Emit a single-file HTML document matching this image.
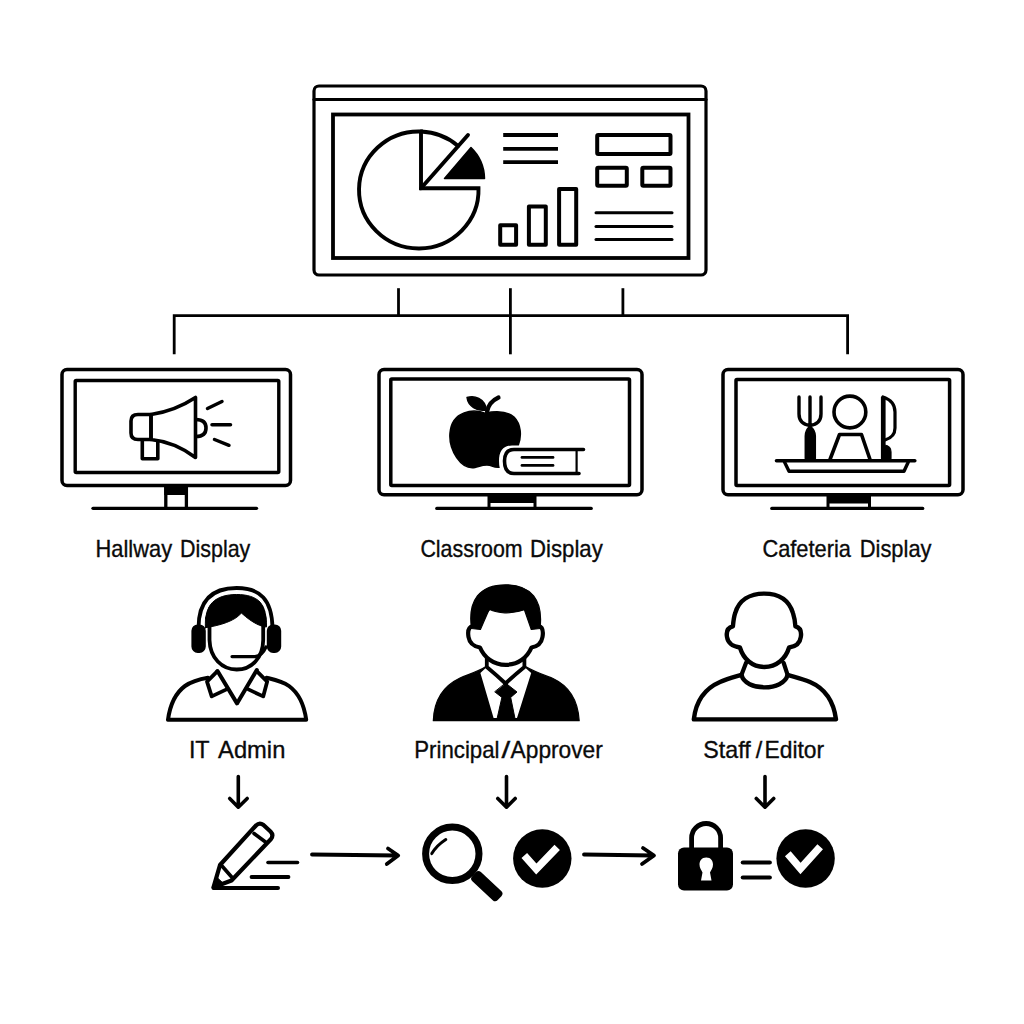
<!DOCTYPE html>
<html lang="en">
<head>
<meta charset="utf-8">
<title>Digital Signage Workflow</title>
<style>
html,body{margin:0;padding:0;background:#fff;}
body{width:1024px;height:1024px;overflow:hidden;}
svg{display:block;}
text{font-family:"Liberation Sans","DejaVu Sans",sans-serif;fill:#0a0a0a;stroke:#0a0a0a;stroke-width:0.35px;}
</style>
</head>
<body>
<svg width="1024" height="1024" viewBox="0 0 1024 1024">
<rect width="1024" height="1024" fill="#ffffff"/>
<g fill="none" stroke="#000" stroke-width="3.2" stroke-linecap="round" stroke-linejoin="round">

<!-- ===== top dashboard monitor ===== -->
<g id="dashboard">
<rect x="314" y="86" width="392" height="189" rx="5"/>
<line x1="314" y1="99.500" x2="706" y2="99.500"/>
<rect x="333" y="114.500" width="355.500" height="143.500" stroke-width="3.800" stroke-linejoin="miter"/>
<!-- pie -->
<path d="M421 131.500 A59.750 58.500 0 1 0 478.500 188.300 L421 188.300 Z" stroke-width="3.900" stroke-linejoin="miter"/>
<path d="M421 131.500 A59.750 58.500 0 0 1 458.100 146" stroke-width="3.900"/>
<line x1="421" y1="188.300" x2="468" y2="135" stroke-width="3.900"/>
<path d="M444.500 178.500 L471 147.500 A44 44 0 0 1 484.500 178.500 Z" fill="#000" stroke-width="1.500"/>
<!-- text lines -->
<line x1="503.200" y1="135" x2="558" y2="135" stroke-width="3.800" stroke-linecap="butt"/>
<line x1="503.200" y1="148.900" x2="558" y2="148.900" stroke-width="3.800" stroke-linecap="butt"/>
<line x1="503.200" y1="162.200" x2="558" y2="162.200" stroke-width="3.800" stroke-linecap="butt"/>
<!-- bars -->
<rect x="500.200" y="225.200" width="15.900" height="19.500" stroke-width="4"/>
<rect x="528.900" y="206.500" width="16.900" height="38.200" stroke-width="4"/>
<rect x="559.100" y="189.100" width="17.100" height="55.600" stroke-width="4"/>
<!-- right boxes -->
<rect x="597.200" y="134.900" width="73.300" height="19" rx="1" stroke-width="4"/>
<rect x="597.200" y="167.700" width="29.600" height="18" rx="1" stroke-width="4"/>
<rect x="642.300" y="167.700" width="28.200" height="18" rx="1" stroke-width="4"/>
<line x1="596" y1="212.700" x2="672" y2="212.700" stroke-width="3"/>
<line x1="596" y1="226.600" x2="672" y2="226.600" stroke-width="3"/>
<line x1="596" y1="239.400" x2="672" y2="239.400" stroke-width="3"/>
</g>

<!-- ===== connectors ===== -->
<g id="connectors" stroke-width="2.800" stroke-linecap="butt" stroke-linejoin="miter">
<path d="M174.200 354.300 V315.700 H847.600 V354.300"/>
<line x1="398.500" y1="288.200" x2="398.500" y2="315.700"/>
<line x1="510.400" y1="288.200" x2="510.400" y2="354.300"/>
<line x1="622.900" y1="288.200" x2="622.900" y2="315.700"/>
</g>

<!-- ===== hallway monitor ===== -->
<g id="hallway">
<rect x="62" y="369.500" width="228.500" height="116" rx="5" stroke-width="3.500"/>
<rect x="75.200" y="380.500" width="203.600" height="92" stroke-width="3.400" rx="1"/>
<rect x="164.200" y="486" width="23.800" height="9" fill="#000" stroke="none"/>
<path d="M165.800 486 V507 M186.400 486 V507" stroke-width="3.300" stroke-linecap="butt"/>
<line x1="93" y1="508.300" x2="256.500" y2="508.300" stroke-width="3.300"/>
<!-- megaphone -->
<path d="M151 414.500 Q175 411 195.500 397.500 V457.500 Q175 442 151 439.500 Z" stroke-width="3.600"/>
<path d="M151 414.500 H138 Q131 414.500 131 421 V433 Q131 439.500 138 439.500 H151 Z" stroke-width="3.600"/>
<path d="M142.300 440 V458.800 H157.800 V441" stroke-width="3.600"/>
<path d="M196 419.500 Q206 419.500 206 428 Q206 436.500 196 436.500" stroke-width="3.600"/>
<line x1="207.500" y1="408.500" x2="222" y2="401.500" stroke-width="3.500"/>
<line x1="212" y1="424.700" x2="230.500" y2="424.700" stroke-width="3.500"/>
<line x1="214.500" y1="439.500" x2="229" y2="445.300" stroke-width="3.500"/>
</g>

<!-- ===== classroom monitor ===== -->
<g id="classroom">
<rect x="379" y="369.500" width="263" height="125.300" rx="5" stroke-width="3.500"/>
<rect x="390.800" y="379" width="238.700" height="106.400" stroke-width="3.500" rx="1"/>
<rect x="488" y="495.500" width="48" height="7.500" fill="#000" stroke="none"/>
<path d="M489 496 V507.500 M535 496 V507.500" stroke-width="3"/>
<line x1="436.800" y1="508.400" x2="591.200" y2="508.400" stroke-width="3.300"/>
<!-- apple -->
<path d="M485 413.200 C474 409 452 410 450 433 C448.500 450 461 470 475 467.500 C481 466 486 463.500 492 466 C498 468.500 505 467 508 463 L508 452 L518 446 C522 436 521 424 514 417 C506 410.500 494 411.200 485 413.200 Z" fill="#000" stroke-width="1.500"/>
<path d="M467 397.500 C474 395 485 398 486.500 410 C477 412 468 406 467 397.500 Z" fill="#000" stroke-width="1.400"/>
<path d="M487 412 C488 405 493 400 498.500 397.500" stroke-width="4.200"/>
<!-- book -->
<path d="M583.500 449.500 H512 Q503 449.500 503 461 Q503 473.500 512 473.500 H579" stroke="#fff" stroke-width="8"/>
<path d="M583.500 449.500 H514 Q504.500 449.500 504.500 461 Q504.500 473.500 514 473.500 H579" fill="#fff" stroke-width="3.600"/>
<line x1="576.600" y1="450" x2="576.600" y2="473" stroke-width="2.200"/>
<line x1="522" y1="457.400" x2="553" y2="457.400" stroke-width="2.800"/>
<line x1="522" y1="465.400" x2="553" y2="465.400" stroke-width="2.800"/>
</g>

<!-- ===== cafeteria monitor ===== -->
<g id="cafeteria">
<rect x="723" y="369.500" width="240" height="125.300" rx="5" stroke-width="3.500"/>
<rect x="736" y="379.600" width="213.600" height="105.800" stroke-width="3.500" rx="1"/>
<rect x="827" y="495.500" width="43.500" height="8" fill="#000" stroke="none"/>
<path d="M828 496 V507.500 M869.500 496 V507.500" stroke-width="3"/>
<line x1="771.800" y1="508.400" x2="922.700" y2="508.400" stroke-width="3.300"/>
<!-- fork -->
<path d="M799 397 V414 Q799 424 810 425.500 Q821 424 821 414 V397 M810 397 V426" stroke-width="3.400"/>
<path d="M810 426 Q805.300 430 805.300 436 V458.500 H815.300 V436 Q815.300 430 810 426 Z" fill="#000" stroke-width="1.500"/>
<!-- head -->
<circle cx="849.900" cy="412" r="15.900" stroke-width="3.600"/>
<path d="M829.800 460 L839.500 434.500 H861.500 L870.200 460" stroke-width="3.600"/>
<!-- knife -->
<path d="M883 397 Q895 401 895 412 V428 Q895 437 885 440" stroke-width="3.200"/>
<path d="M881.500 397 H885 V445 Q891 446 891 452 V458.500 H881.500 Z" fill="#000" stroke-width="1.200"/>
<!-- tray -->
<line x1="776.500" y1="460.700" x2="914.800" y2="460.700" stroke-width="3.600"/>
<path d="M784.500 462 L789 471.300 H904 L908.300 462" stroke-width="3.400"/>
</g>
</g>

<!-- labels row 1 -->
<g font-size="24" lengthAdjust="spacingAndGlyphs">
<text y="556.800"><tspan x="95.590" textLength="76.510" lengthAdjust="spacingAndGlyphs">Hallway</tspan> <tspan x="180.010" textLength="70.290" lengthAdjust="spacingAndGlyphs">Display</tspan></text>
<text y="556.800"><tspan x="420.410" textLength="102.280" lengthAdjust="spacingAndGlyphs">Classroom</tspan> <tspan x="530.080" textLength="72.720" lengthAdjust="spacingAndGlyphs">Display</tspan></text>
<text y="556.800"><tspan x="762.390" textLength="88.520" lengthAdjust="spacingAndGlyphs">Cafeteria</tspan> <tspan x="859.790" textLength="71.710" lengthAdjust="spacingAndGlyphs">Display</tspan></text>
</g>

<g fill="none" stroke="#000" stroke-width="4" stroke-linecap="round" stroke-linejoin="round">
<!-- ===== IT admin ===== -->
<g id="itadmin">
<!-- shoulders -->
<path d="M217.500 671 L237 703.400 L256.800 670" stroke-width="4"/>
<path d="M208 677.700 C200 679 192 681 185 686 C175.500 693 170 705 168 719.800 H306.200 C304.200 705 298.500 693 289 686 C282 681 274 679.500 266.500 677.700" stroke-width="4"/>
<!-- collar -->
<path d="M217.200 671.400 L207 681.600 L211.700 696.400 L226.500 689.400" stroke-width="3.800"/>
<path d="M257 671.400 L267.200 681.600 L263.200 696.400 L248.400 689.400" stroke-width="3.800"/>
<!-- face -->
<path d="M209.500 625 V640 C210 658 222 669.500 236.700 669.500 C251.500 669.500 263 658 263.200 640 V625 C262 603 252 597 236.700 597 C221 597 210.500 603 209.500 625 Z" fill="#fff" stroke-width="3.800"/>
<!-- hair -->
<path d="M205.400 627.700 C203.500 604 216 594.500 236.700 594.500 C257.500 594.500 268.500 604 266.400 627 C261 626.500 253 623.500 241.400 613 C235 621 220 625.500 205.400 627.700 Z" fill="#000" stroke-width="1"/>
<!-- headband -->
<path d="M198.500 628 C198.500 600 213 588 236.700 588 C260.500 588 272 600 272.500 628" stroke-width="3.800"/>
<path d="M203.300 627 C203 602.500 215 591.800 236.700 591.800 C258.500 591.800 268.500 602.500 268.300 627" stroke="#fff" stroke-width="2"/>
<!-- ear cups -->
<rect x="192.200" y="625.300" width="12.800" height="26.800" rx="5.500" fill="#000" stroke-width="1.600"/>
<rect x="267.600" y="625.300" width="12.800" height="26.800" rx="5.500" fill="#000" stroke-width="1.600"/>
<!-- mic -->
<path d="M232 656.600 H255 Q262 656 266 647" stroke-width="3.200"/>
</g>

<!-- ===== principal ===== -->
<g id="principal">
<!-- suit -->
<path d="M433.300 720.700 C434 700 443 686 460 678 C468 674.500 477 672 486 666.500 H525.500 C535 672 544 675 553 678.500 C569 686 578 700 579.200 720.700 Z" fill="#000" stroke-width="1.200"/>
<!-- shirt + neck white -->
<path d="M486.800 660 V667 L480.400 673 L493.600 718 H517 L531.200 673 L524.400 667 V660 Z" fill="#fff" stroke="none"/>
<!-- collar V lines -->
<path d="M486.800 658 V667 Q497 675.500 505.500 683.500 Q514 675.500 524.400 667 V658" stroke-width="3.800"/>
<!-- tie -->
<path d="M505.800 683.200 L517 692 L510.700 697.400 L515.100 719 H497 L501.900 697.400 L495 692 Z" fill="#000" stroke-width="1"/>
<!-- face w/ ears -->
<path d="M473 626 C467.500 627 468 634 468.500 637 C469.500 643 474 646.500 480 647.500 C484 657 493 664.800 505.800 664.800 C518.500 664.800 527.500 657 531.500 647.500 C537.500 646.500 541.500 643 542.500 637 C543 634 543.500 627 538.500 626 L531 608 H489 Z" fill="#fff" stroke-width="4.200"/>
<!-- hair -->
<path d="M471.500 628.500 C467.500 600 480 584.800 505.500 584.800 C531 584.800 543.500 600 540 628.500 L531.300 629.500 L524.400 609.700 C517 612.300 511 613 504.800 612.800 C499 612.600 494 611.500 489.200 609.200 L480.400 629.500 Z" fill="#000" stroke-width="1.200"/>
</g>

<!-- ===== staff ===== -->
<g id="staff">
<path d="M693.800 719.400 C696 700 705 688.500 720 682 C728 678.500 735 676.800 741.500 674.800 C745 691.500 784 691.500 787.600 674.800 C794 676.800 802 678.500 810 682 C825 688.500 833.500 700 836 719.400 Z" stroke-width="4.400"/>
<path d="M746 663 L741.500 674.800 M783.700 663 L787.600 674.800" stroke-width="4.200"/>
<path d="M732.900 626.400 C726 628 726.500 634 727 637 C728 643.500 733 646.500 739.900 647.500 C743.500 659 752 667 764.300 667 C776.500 667 785.500 659 789.100 647.500 C796 646.500 800 643.500 800.800 637 C801.300 634 801.500 628 795.400 626.400 C795 621 794.300 617 793 613.100 C789 600 778.500 593.600 764.200 593.600 C750 593.600 739 600 735.200 613.100 C734 616.500 733.500 620 732.900 626.400 Z" fill="#fff" stroke-width="4.400"/>
</g>
</g>

<!-- labels row 2 -->
<g font-size="23.800">
<text y="758.400"><tspan x="188.880" textLength="20.340" lengthAdjust="spacingAndGlyphs">IT</tspan> <tspan x="218.100" textLength="67.230" lengthAdjust="spacingAndGlyphs">Admin</tspan></text>
<text y="758.400"><tspan x="414.270" textLength="85.240" lengthAdjust="spacingAndGlyphs">Principal</tspan><tspan x="501.400" textLength="8.690" lengthAdjust="spacingAndGlyphs">/</tspan><tspan x="510.600" textLength="92.230" lengthAdjust="spacingAndGlyphs">Approver</tspan></text>
<text y="758.400"><tspan x="703.320" textLength="47.400" lengthAdjust="spacingAndGlyphs">Staff</tspan> <tspan x="755.800" textLength="6.520" lengthAdjust="spacingAndGlyphs">/</tspan><tspan x="764.440" textLength="59.690" lengthAdjust="spacingAndGlyphs">Editor</tspan></text>
</g>

<g fill="none" stroke="#000" stroke-width="3.600" stroke-linecap="round" stroke-linejoin="round">
<!-- down arrows -->
<path d="M238.300 776.500 V806.500 M229.700 798.500 L238.300 807.200 L247.200 798.500"/>
<path d="M506.500 776.500 V806.500 M497.800 798.500 L506.500 807.200 L515.200 798.500"/>
<path d="M765 776.500 V806.500 M756.300 798.500 L765 807.200 L773.700 798.500"/>

<!-- pencil -->
<g id="pencil">
<path d="M220 865 L256 825.500 Q259.500 822 263.500 825 L270.500 831.500 Q274 835 271 839 L231.500 880.500 L213.500 887.300 Z" stroke-width="4.200"/>
<line x1="254" y1="833.500" x2="265.500" y2="842" stroke-width="3.600"/>
<line x1="222" y1="866" x2="232.500" y2="878" stroke-width="3.600"/>
<path d="M213.500 887.300 L216.500 877 L224 884 Z" fill="#000" stroke-width="1"/>
<line x1="213.500" y1="888" x2="278" y2="888" stroke-width="4"/>
<line x1="251.500" y1="877" x2="288.500" y2="877" stroke-width="3.800"/>
<line x1="268" y1="862.500" x2="297.500" y2="862.500" stroke-width="3.600"/>
</g>

<!-- arrows -->
<path d="M312 854.500 L397 855.500 M388 848.500 L398.200 855.500 L386.800 864" stroke-width="3.800"/>
<path d="M584 854.500 L653 855.500 M643 848 L654 855.500 L642 864" stroke-width="3.800"/>

<!-- magnifier -->
<g id="magnifier">
<rect x="0" y="-6.250" width="35" height="12.500" rx="3.600" fill="#000" stroke="none" transform="translate(474 874.200) rotate(43)"/>
<circle cx="452.300" cy="853.800" r="26.700" stroke-width="7" fill="#fff"/>
<path d="M431.800 853.600 Q436.500 845.500 445.800 839.500" stroke-width="3"/>
</g>

<!-- check 1 -->
<circle cx="542.300" cy="858.500" r="29.200" fill="#000" stroke="none"/>
<path d="M524.300 855.500 L536.300 869 L557.200 847.300" stroke="#fff" stroke-width="7.500" stroke-linecap="butt" stroke-linejoin="miter"/>

<!-- lock -->
<g id="lock">
<path d="M691.600 850 V838 A14.500 14.500 0 0 1 720.600 838 V850" stroke-width="4.800"/>
<rect x="678" y="847.500" width="55" height="43" rx="6" fill="#000" stroke="none"/>
<path d="M706.300 857.500 C711 857.500 713 861 713 864.500 C713 868 711 870 710 872.500 L711.500 880.500 H701 L702.500 872.500 C701.500 870 699.500 868 699.500 864.500 C699.500 861 701.500 857.500 706.300 857.500 Z" fill="#fff" stroke="none"/>
</g>
<line x1="742.800" y1="862.500" x2="769.800" y2="862.500" stroke-width="4.200"/>
<line x1="742.800" y1="877.500" x2="769.800" y2="877.500" stroke-width="4.200"/>

<!-- check 2 -->
<circle cx="805.600" cy="858.500" r="29.200" fill="#000" stroke="none"/>
<path d="M787.800 853.800 L800.500 868.500 L820.200 846.800" stroke="#fff" stroke-width="7.500" stroke-linecap="butt" stroke-linejoin="miter"/>
</g>
</svg>
</body>
</html>
